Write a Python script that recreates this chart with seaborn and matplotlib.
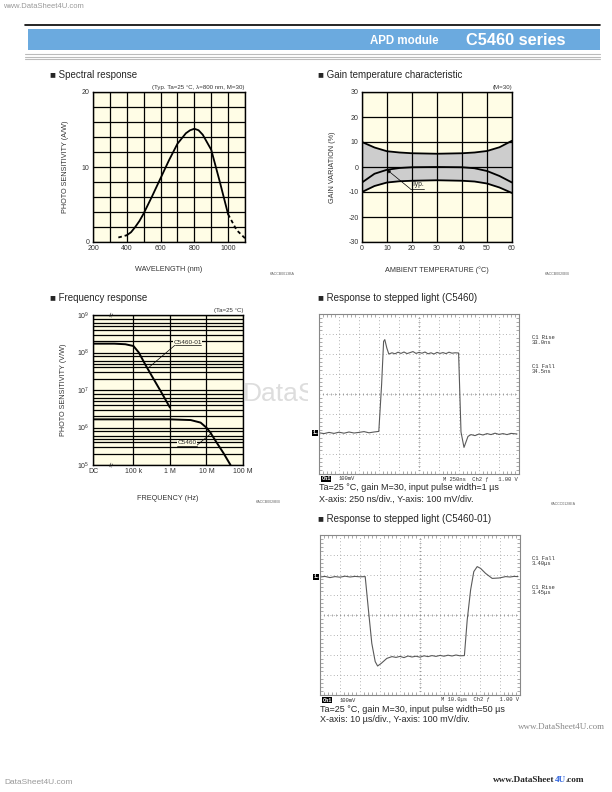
import numpy as np
import matplotlib
matplotlib.use("Agg")
import matplotlib.pyplot as plt
from matplotlib.patches import Rectangle
from matplotlib.lines import Line2D
from matplotlib.text import Annotation
from matplotlib.ticker import LogLocator, NullLocator
import seaborn as sns

# ---- spectral response (nm, A/W)
spec_nm = [400, 425, 450, 475, 500, 550, 600, 650, 700, 750, 775, 800, 825, 850, 900, 950, 1000]
spec_aw = [0.9, 1.3, 2.0, 2.8, 3.8, 6.1, 8.5, 10.9, 13.1, 14.5, 14.9, 15.1, 14.9, 14.3, 12.3, 8.1, 3.7]
spec_lo_nm = [350, 375, 400]
spec_lo_aw = [0.6, 0.75, 0.9]
spec_hi_nm = [1000, 1050, 1100]
spec_hi_aw = [3.7, 1.6, 0.5]

# ---- gain temperature characteristic (deg C, %)
temp_c = [0, 5, 10, 15, 20, 30, 40, 45, 50, 55, 60]
gain_upper = [10.0, 7.8, 6.3, 5.8, 5.5, 5.3, 5.5, 5.8, 6.4, 7.9, 10.5]
gain_lower = [-10.0, -7.6, -6.2, -5.7, -5.5, -5.3, -5.5, -5.8, -6.6, -8.2, -10.4]
gain_typ = [-6.2, -2.7, -1.1, -0.4, -0.1, 0.0, -0.1, -0.5, -1.6, -3.6, -6.2]

# ---- frequency response (Hz, V/W); 7.8e3 is where "DC" sits on the axis
freq_dc = 7.8e3
f_01 = [freq_dc, 3e4, 6e4, 1e5, 1.4e5, 2.1e5, 3.2e5, 6e5, 1e6]
s_01 = [1.72e8, 1.72e8, 1.66e8, 1.49e8, 1.0e8, 4.8e7, 2.35e7, 8.2e6, 3.4e6]
f_00 = [freq_dc, 1e5, 1e6, 3.7e6, 6.9e6, 1e7, 1.28e7, 1.92e7, 2.9e7, 4.55e7]
s_00 = [1.65e6, 1.65e6, 1.65e6, 1.58e6, 1.35e6, 9.9e5, 7.3e5, 3.9e5, 2.1e5, 1.0e5]
freq_ticks = [freq_dc, 1e5, 1e6, 1e7, 1e8]
freq_labels = ["DC", "100 k", "1 M", "10 M", "100 M"]

# ---- oscilloscope traces (divisions)
t_c5460 = [0, 0.25, 0.5, 0.75, 1.0, 1.25, 1.5, 1.75, 2.0, 2.25, 2.5, 2.75, 2.99, 3.13, 3.23,
           3.29, 3.39, 3.49, 3.65, 3.8, 3.95, 4.1, 4.25, 4.4, 4.55, 4.7, 4.85, 5.0, 5.15, 5.3,
           5.45, 5.6, 5.75, 5.9, 6.05, 6.2, 6.35, 6.5, 6.65, 6.8, 6.98, 7.1, 7.25, 7.33, 7.45,
           7.6, 7.8, 8.0, 8.2, 8.4, 8.6, 8.8, 9.0, 9.2, 9.4, 9.6, 9.9]
v_c5460 = [2.06, 2.02, 2.08, 2.03, 2.09, 2.04, 2.1, 2.05, 2.08, 2.12, 2.06, 2.1, 2.13, 4.47, 6.63,
           6.72, 6.3, 6.0, 6.06, 6.01, 6.09, 6.03, 6.1, 6.02, 6.07, 6.12, 6.03, 6.08, 6.04, 6.1,
           6.01, 6.06, 6.0, 6.08, 6.03, 6.07, 6.02, 6.09, 6.04, 6.06, 6.05, 2.1, 1.33, 1.55, 1.88,
           1.97, 1.92, 2.0, 1.95, 2.02, 1.97, 2.04, 1.98, 2.02, 1.97, 2.03, 2.0]
t_c546001 = [0, 0.25, 0.5, 0.75, 1.0, 1.25, 1.5, 1.75, 2.0, 2.26, 2.42, 2.59, 2.76, 2.88, 3.06,
             3.34, 3.6, 3.8, 4.0, 4.2, 4.4, 4.6, 4.8, 5.0, 5.2, 5.4, 5.6, 5.8, 6.0, 6.2, 6.4, 6.6,
             6.8, 7.0, 7.22, 7.36, 7.53, 7.69, 7.86, 8.03, 8.28, 8.61, 8.95, 9.1, 9.28, 9.5, 9.7, 9.9]
v_c546001 = [5.9, 5.93, 5.87, 5.92, 5.89, 5.94, 5.9, 5.93, 5.91, 5.92, 4.27, 2.58, 1.67, 1.45,
             1.58, 1.83, 1.92, 1.88, 1.93, 1.87, 1.95, 1.9, 1.94, 1.89, 1.96, 1.92, 1.97, 1.93,
             1.98, 1.94, 1.99, 1.95, 2.0, 1.96, 1.97, 3.75, 5.25, 6.17, 6.42, 6.33, 6.08, 5.83,
             5.85, 5.88, 5.92, 5.9, 5.93, 5.92]

sns.set_style("white")
plt.rcParams["font.family"] = ["Liberation Sans", "DejaVu Sans"]
plt.rcParams["mathtext.fontset"] = "custom"
plt.rcParams["mathtext.rm"] = "Liberation Sans"
plt.rcParams["axes.unicode_minus"] = False

W, H = 612, 792
fig = plt.figure(figsize=(W / 100, H / 100), dpi=100)
BG = "#FFFDE6"
LBL = "#333333"


def box(x0, y0, x1, y1, **kw):
    return fig.add_axes([x0 / W, 1 - y1 / H, (x1 - x0) / W, (y1 - y0) / H], **kw)


def ftext(x, y, s, **kw):
    return fig.text(x / W, 1 - y / H, s, **kw)


def chart_style(ax):
    ax.set_facecolor(BG)
    for sp in ax.spines.values():
        sp.set_color("black")
        sp.set_linewidth(1.0)
    ax.grid(True, color="black", lw=0.9)
    ax.tick_params(length=0, labelsize=5, colors=LBL, pad=2.5)


# ---- header
ftext(3, 7, "www.DataSheet4U.com", fontsize=5.5, color="#999999", va="center")
fig.add_artist(Line2D([25 / W, 600 / W], [1 - 24.5 / H] * 2, color="black", lw=1.2))
fig.add_artist(Rectangle((28 / W, 1 - 50 / H), 572 / W, 21 / H, transform=fig.transFigure,
                         facecolor="#6BAADF", edgecolor="none"))
for yy in (54, 56.5, 59):
    fig.add_artist(Line2D([25 / W, 600 / W], [1 - yy / H] * 2, color="#BBBBBB", lw=0.8))
ftext(439, 41.5, "APD module", fontsize=8.3, color="white", weight="bold", ha="right", va="center")
ftext(566, 40.5, "C5460 series", fontsize=11.8, color="white", weight="bold", ha="right", va="center")

# ---- spectral response
ftext(50, 75, "■ Spectral response", fontsize=7, va="center")
ax = box(93, 92, 245, 242)
chart_style(ax)
sns.lineplot(x=spec_nm, y=spec_aw, ax=ax, color="black", lw=1.3, estimator=None)
sns.lineplot(x=spec_lo_nm, y=spec_lo_aw, ax=ax, color="black", lw=1.3, estimator=None,
             linestyle=(0, (2, 1.6)))
sns.lineplot(x=spec_hi_nm, y=spec_hi_aw, ax=ax, color="black", lw=1.3, estimator=None,
             linestyle=(0, (2, 1.6)))
ax.set_xlim(200, 1100)
ax.set_ylim(0, 20)
ax.set_xticks(range(200, 1101, 100))
ax.set_xticklabels([str(v) if v % 200 == 0 and v <= 1000 else "" for v in range(200, 1101, 100)])
ax.set_yticks(range(0, 21, 2))
ax.set_yticklabels([str(v) if v % 10 == 0 else "" for v in range(0, 21, 2)])
ax.set_xlabel("WAVELENGTH (nm)", fontsize=5.2, color=LBL, labelpad=10)
ax.set_ylabel("PHOTO SENSITIVITY (A/W)", fontsize=5.2, color=LBL, labelpad=9)
ax.set_title("(Typ. Ta=25 °C, λ=800 nm, M=30)", fontsize=4.4, color=LBL, loc="right", pad=2)
ftext(282, 274, "KACCB0013BA", fontsize=2.6, color="#666666", ha="center", va="center")

# ---- gain temperature characteristic
ftext(318, 75, "■ Gain temperature characteristic", fontsize=7, va="center")
ax = box(362, 92, 512, 242)
chart_style(ax)
ax.fill_between(temp_c, gain_lower, gain_upper, color="#CDCDCD", lw=0, zorder=0.3)
for series in (gain_upper, gain_lower, gain_typ):
    sns.lineplot(x=temp_c, y=series, ax=ax, color="black", lw=1.3, estimator=None)
ax.set_xlim(0, 60)
ax.set_ylim(-30, 30)
ax.set_xticks(range(0, 61, 10))
ax.set_yticks(range(-30, 31, 10))
ax.annotate("", xy=(10, -1.1), xytext=(19.3, -8.7),
            arrowprops=dict(arrowstyle="-|>", lw=0.5, color="black", mutation_scale=5,
                            shrinkA=0, shrinkB=0))
ax.plot([19.3, 24.6], [-8.7, -8.7], color="black", lw=0.5)
ax.text(19.8, -8.4, "Typ.", fontsize=4.8, va="bottom", ha="left")
ax.set_xlabel("AMBIENT TEMPERATURE (°C)", fontsize=5.2, color=LBL, labelpad=10)
ax.set_ylabel("GAIN VARIATION (%)", fontsize=5.2, color=LBL, labelpad=9)
ax.set_title("(M=30)", fontsize=4.4, color=LBL, loc="right", pad=2)
ftext(557, 274, "KACCB0020EB", fontsize=2.6, color="#666666", ha="center", va="center")

# ---- frequency response
ftext(50, 298, "■ Frequency response", fontsize=7, va="center")
ftext(243, 394, "DataSheet4U.com", fontsize=19, color="#DDDDDD", va="center", ha="left", zorder=1)
ax = box(93, 315, 243, 465)
chart_style(ax)
ax.set_xscale("log")
ax.set_yscale("log")
ax.set_xlim(freq_dc, 1e8)
ax.set_ylim(1e5, 1e9)
ax.set_xticks(freq_ticks)
ax.set_xticklabels(freq_labels)
ax.xaxis.set_minor_locator(NullLocator())
ax.set_yticks([1e5, 1e6, 1e7, 1e8, 1e9])
ax.set_yticklabels([r"$10^{%d}$" % p for p in range(5, 10)])
ax.yaxis.set_minor_locator(LogLocator(base=10, subs=[2, 3, 4, 5, 6, 8]))
ax.grid(True, which="minor", axis="y", color="black", lw=0.9)
ax.tick_params(which="minor", length=0)
sns.lineplot(x=f_01, y=s_01, ax=ax, color="black", lw=1.4, estimator=None)
sns.lineplot(x=f_00, y=s_00, ax=ax, color="black", lw=1.4, estimator=None)
# curve labels with leader lines
ax.text(10 ** 6.48, 10 ** 8.2, "C5460-01", fontsize=4.6, ha="center", va="bottom",
        bbox=dict(facecolor=BG, edgecolor="none", pad=0.3))
ax.plot([10 ** 6.13, 10 ** 6.84], [10 ** 8.19] * 2, color="black", lw=0.5)
ax.plot([10 ** 6.13, 10 ** 5.42], [10 ** 8.19, 10 ** 7.6], color="black", lw=0.5)
ax.text(10 ** 6.46, 10 ** 5.53, "C5460", fontsize=4.6, ha="center", va="bottom",
        bbox=dict(facecolor=BG, edgecolor="none", pad=0.3))
ax.plot([10 ** 6.18, 10 ** 6.73], [10 ** 5.52] * 2, color="black", lw=0.5)
ax.plot([10 ** 6.73, 10 ** 7.15], [10 ** 5.52, 10 ** 5.86], color="black", lw=0.5)
for yb in (1e9, 1e5):
    ax.text(10 ** 4.41, yb, "≈", rotation=75, fontsize=6, ha="center", va="center", clip_on=False)
ax.set_xlabel("FREQUENCY (Hz)", fontsize=5.2, color=LBL, labelpad=14)
ax.set_ylabel("PHOTO SENSITIVITY (V/W)", fontsize=5.2, color=LBL, labelpad=7)
ax.set_title("(Ta=25 °C)", fontsize=4.4, color=LBL, loc="right", pad=2)
ftext(268, 502, "KACCB0028EB", fontsize=2.6, color="#666666", ha="center", va="center")

# white sheet behind the scope pictures
fig.add_artist(Rectangle((308 / W, 1 - 505 / H), 292 / W, 197 / H, transform=fig.transFigure,
                         facecolor="white", edgecolor="none", zorder=2))

MONO = "Liberation Mono"


def scope(x0, y0, t, v, marker_div, ttl, side, bottom_right, cap1, cap2):
    ftext(318, y0 - 16, ttl, fontsize=7, va="center")
    ax = box(x0, y0, x0 + 200, y0 + 160, zorder=3)
    ax.set_facecolor("white")
    ax.set_xlim(0, 10)
    ax.set_ylim(0, 8)
    ax.set_xticks(range(11))
    ax.set_yticks(range(9))
    ax.set_xticklabels([])
    ax.set_yticklabels([])
    ax.set_xticks(np.arange(0, 10.01, 0.2), minor=True)
    ax.set_yticks(np.arange(0, 8.01, 0.2), minor=True)
    ax.tick_params(which="major", length=0)
    ax.tick_params(which="minor", direction="in", length=2, width=0.5, color="#888888",
                   top=True, right=True, bottom=True, left=True)
    ax.grid(True, which="major", color="#999999", lw=0.6, ls=(0, (1, 3)))
    for sp in ax.spines.values():
        sp.set_color("#888888")
        sp.set_linewidth(0.8)
    ax.vlines(np.arange(0.2, 10, 0.2), 3.93, 4.07, color="#888888", lw=0.5)
    ax.hlines(np.arange(0.2, 8, 0.2), 4.93, 5.07, color="#888888", lw=0.5)
    sns.lineplot(x=t, y=v, ax=ax, color="#5A5A5A", lw=0.8, estimator=None, sort=False)
    ym = y0 + 160 - marker_div * 20
    ftext(x0 - 4, ym, "1→", fontsize=3.3, color="white", family=MONO, ha="center", va="center",
          weight="bold", bbox=dict(facecolor="black", edgecolor="none", pad=0.4))
    yb = y0 + 165
    ftext(x0 + 7, yb, "Ch1", fontsize=3.8, color="white", family=MONO, ha="center", va="center",
          weight="bold", bbox=dict(facecolor="black", edgecolor="none", pad=0.3))
    ftext(x0 + 20, yb, "100mV", fontsize=4.0, family=MONO, va="center", color="#333333")
    ftext(x0 + 199, yb, bottom_right, fontsize=4.0, family=MONO, va="center", ha="right",
          color="#333333")
    for (yy, s) in side:
        ftext(532, yy, s, fontsize=4.0, family=MONO, va="center", color="#333333",
              linespacing=0.95)
    ftext(x0, y0 + 174, cap1, fontsize=6.5, va="center")
    ftext(x0, y0 + 185, cap2, fontsize=6.5, va="center")


scope(319, 314, t_c5460, v_c5460, 2.05, "■ Response to stepped light (C5460)",
      [(340, "C1 Rise\n33.0ns"), (369, "C1 Fall\n34.5ns")],
      "M 250ns  Ch2 ƒ   1.00 V",
      "Ta=25 °C, gain M=30, input pulse width=1 µs",
      "X-axis: 250 ns/div., Y-axis: 100 mV/div.")
ftext(563, 504, "KACCC0128EA", fontsize=2.6, color="#666666", ha="center", va="center")

scope(320, 535, t_c546001, v_c546001, 5.9, "■ Response to stepped light (C5460-01)",
      [(561, "C1 Fall\n3.40µs"), (590, "C1 Rise\n3.45µs")],
      "M 10.0µs  Ch2 ƒ   1.00 V",
      "Ta=25 °C, gain M=30, input pulse width=50 µs",
      "X-axis: 10 µs/div., Y-axis: 100 mV/div.")
ftext(605, 727, "www.DataSheet4U.com", fontsize=6.5, color="#888888", ha="right", va="center",
      family="Liberation Serif")

# ---- footer
ftext(4, 783, "DataSheet4U.com", fontsize=6, color="#999999", va="center")
t1 = ftext(493, 782, "www.DataSheet", fontsize=6.6, family="Liberation Serif", weight="bold",
           va="baseline")
a2 = fig.add_artist(Annotation("4U", xy=(1, 0), xycoords=t1, fontsize=6.6,
                               family="Liberation Serif", weight="bold",
                               color="#3366DD", va="bottom"))
fig.add_artist(Annotation(".com", xy=(1, 0), xycoords=a2, fontsize=6.6,
                          family="Liberation Serif", weight="bold", va="bottom"))

fig.savefig("out.png", dpi=100, facecolor="white")
